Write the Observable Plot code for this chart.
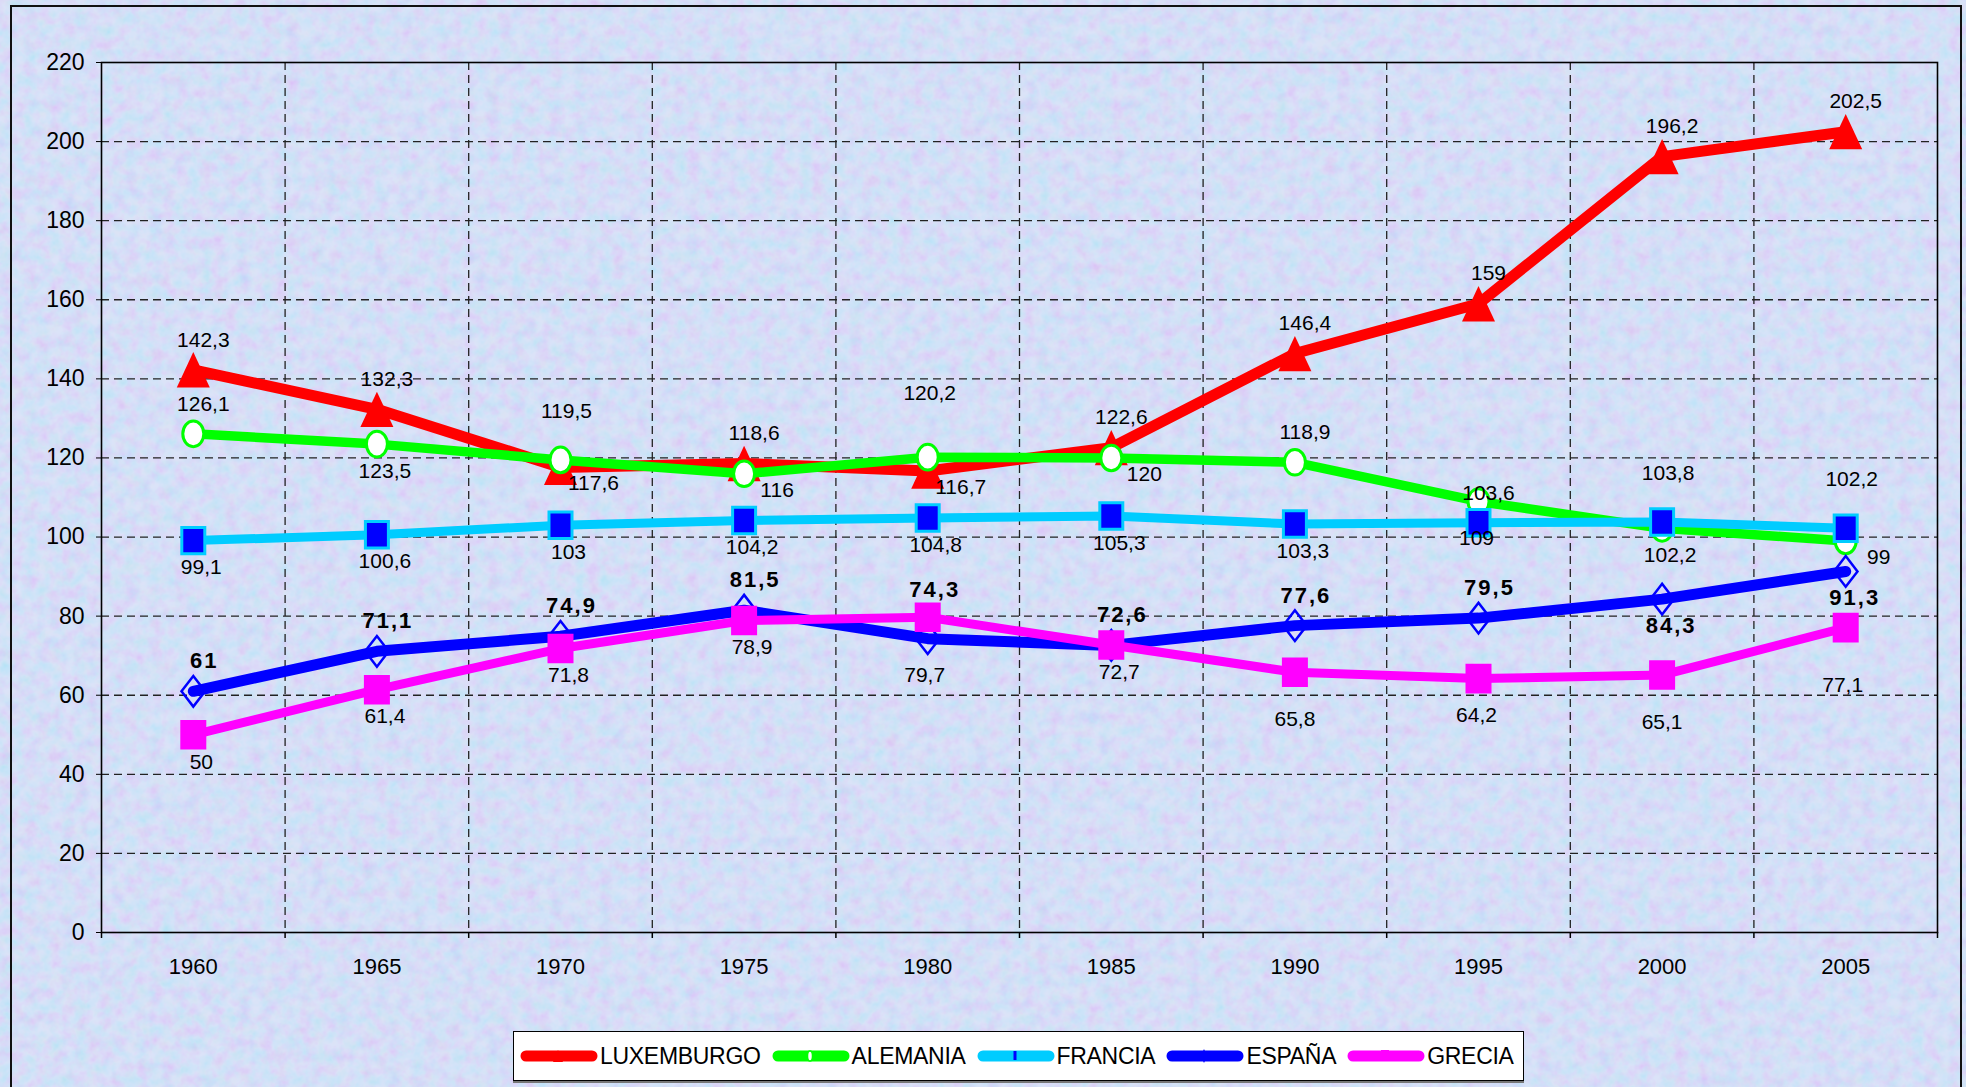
<!DOCTYPE html>
<html><head><meta charset="utf-8">
<script src="https://cdn.jsdelivr.net/npm/d3@7"></script>
<script src="https://cdn.jsdelivr.net/npm/@observablehq/plot@0.6"></script>
<style>
html,body{margin:0;padding:0;width:1966px;height:1087px;overflow:hidden;font-family:"Liberation Sans",Arial,sans-serif;background:#c8d4f5;}
#bg{position:absolute;left:0;top:0;}
#frame{position:absolute;left:10px;top:5px;width:1952px;height:1200px;border:2px solid #111;box-sizing:border-box;}
#chart{position:absolute;left:0;top:0;}
#legend{position:absolute;left:513px;top:1031px;width:1011px;height:50px;background:#fff;border:1.5px solid #000;box-shadow:0 2px 0 #777;box-sizing:border-box;display:flex;align-items:center;padding-left:6px;}
.item{display:flex;align-items:center;margin-right:11px;}
.item svg{display:block;margin-right:2px;}
.item span{font-size:23px;color:#000;letter-spacing:-0.3px;}
</style></head>
<body>
<svg id="bg" width="1966" height="1087">
  <defs>
    <filter id="noise" x="0" y="0" width="100%" height="100%">
      <feTurbulence type="fractalNoise" baseFrequency="0.08" numOctaves="3" seed="11" result="t"/>
      <feColorMatrix in="t" type="matrix" values="1.0 -0.3 0 0 0.5  -0.3 1.0 0 0 0.55  0 0 0.3 0 0.82  0 0 0 0 1"/>
    </filter>
  </defs>
  <rect width="1966" height="1087" fill="#c8d4f5"/>
  <rect width="1966" height="1087" filter="url(#noise)" opacity="0.35"/>
</svg>
<div id="frame"></div>
<div id="chart"></div>
<div id="legend"></div>
<script>
// ---- data ----
const years = [1960, 1965, 1970, 1975, 1980, 1985, 1990, 1995, 2000, 2005];
const luxemburgo = [142.3, 132.3, 117.6, 118.6, 116.7, 122.6, 146.4, 159, 196.2, 202.5];
const alemania   = [126.1, 123.5, 119.5, 116, 120.2, 120, 118.9, 109, 102.2, 99];
const francia    = [99.1, 100.6, 103, 104.2, 104.8, 105.3, 103.3, 103.6, 103.8, 102.2];
const espana     = [61, 71.1, 74.9, 81.5, 74.3, 72.6, 77.6, 79.5, 84.3, 91.3];
const grecia     = [50, 61.4, 71.8, 78.9, 79.7, 72.7, 65.8, 64.2, 65.1, 77.1];
const seriesNames = ["LUXEMBURGO", "ALEMANIA", "FRANCIA", "ESPAÑA", "GRECIA"];
const yTicks = [0, 20, 40, 60, 80, 100, 120, 140, 160, 180, 200, 220];

// ---- label placement (layout, per point) ----
const labelPlacement = {
  LUXEMBURGO: ["T","T","R","T","R","T","T","T","T","T"],
  ALEMANIA:   ["T","B","T2","R","T3","R","T","B2","B","R"],
  FRANCIA:    ["B","B","B","B","B","B","B","T","T2","T2"],
  "ESPAÑA":   ["T","T","T","T","T2","T","T","T","B","B"],
  GRECIA:     ["B","B","B","B","B4","B","B3","B2","B3","B4"]
};
const offsets = {T:[10,-30],T2:[6,-49],T3:[2,-64],B:[8,27],B2:[-2,37],B3:[0,47],B4:[-3,58],R:[33,16]};

// ---- custom symbols ----
const symTri = {draw(c,s){const r=Math.sqrt(s/Math.PI); c.moveTo(0,-1.07*r); c.lineTo(r,1.07*r); c.lineTo(-r,1.07*r); c.closePath();}};
const symEll = {draw(c,s){const r=Math.sqrt(s/Math.PI), ry=r*1.22, k=0.5523;
  c.moveTo(r,0); c.bezierCurveTo(r,ry*k,r*k,ry,0,ry); c.bezierCurveTo(-r*k,ry,-r,ry*k,-r,0);
  c.bezierCurveTo(-r,-ry*k,-r*k,-ry,0,-ry); c.bezierCurveTo(r*k,-ry,r,-ry*k,r,0); c.closePath();}};
const symRect = {draw(c,s){const r=Math.sqrt(s/Math.PI); c.rect(-r,-r*1.15,2*r,2.3*r);}};
const symDia = {draw(c,s){const r=Math.sqrt(s/Math.PI); c.moveTo(0,-1.3*r); c.lineTo(r,0); c.lineTo(0,1.3*r); c.lineTo(-r,0); c.closePath();}};

const series = [
  {name:"LUXEMBURGO", values:luxemburgo, color:"#ff0000", width:11, sym:symTri, r:16.5, fill:"#ff0000", stroke:"none", sw:0},
  {name:"ALEMANIA", values:alemania, color:"#00ff00", width:9.5, sym:symEll, r:10.5, fill:"#ffffff", stroke:"#00ff00", sw:3},
  {name:"FRANCIA", values:francia, color:"#00ccff", width:9, sym:symRect, r:11.5, fill:"#0000ff", stroke:"#00ccff", sw:3},
  {name:"ESPAÑA", values:espana, color:"#0000ff", width:11, sym:symDia, r:11.8, fill:"none", stroke:"#0000ff", sw:2.5},
  {name:"GRECIA", values:grecia, color:"#ff00ff", width:9, sym:symRect, r:12, fill:"#ff00ff", stroke:"#ff00ff", sw:2}
];

const fmt = v => String(v).replace(".", ",");
const boundaries = d3.range(1957.5, 2008, 5);

const marks = [
  Plot.gridY(yTicks.filter(d => d > 0 && d < 220), {stroke:"#222", strokeOpacity:1, strokeWidth:1.3, strokeDasharray:"8,5"}),
  Plot.ruleX(boundaries.slice(1, -1), {stroke:"#222", strokeOpacity:1, strokeWidth:1.3, strokeDasharray:"8,5"}),
  Plot.frame({stroke:"#000", strokeWidth:1.6}),
  Plot.axisY(yTicks, {tickSize:5, tickPadding:12, fontSize:23, tickFormat:d => String(d), label:null}),
  Plot.axisX(years, {tickSize:0, tickPadding:26, fontSize:22, tickFormat:d => String(d), label:null}),
  Plot.axisX(boundaries, {tickSize:6, tickFormat:() => "", label:null, strokeWidth:1.5})
];

for (const s of series) {
  marks.push(Plot.line(years, {x:d => d, y:(d,i) => s.values[i], stroke:s.color, strokeWidth:s.width, strokeLinecap:"round", strokeLinejoin:"round"}));
  marks.push(Plot.dot(years, {x:d => d, y:(d,i) => s.values[i], symbol:s.sym, r:s.r, fill:s.fill, stroke:s.stroke, strokeWidth:s.sw}));
}
for (const s of series) {
  const codes = labelPlacement[s.name];
  const bold = s.name === "ESPAÑA";
  for (const code of Object.keys(offsets)) {
    if (!codes.includes(code)) continue;
    marks.push(Plot.text(years, {
      filter:(d,i) => codes[i] === code,
      x:d => d, y:(d,i) => s.values[i], text:(d,i) => fmt(s.values[i]),
      dx:offsets[code][0] + (bold ? 1 : 0), dy:offsets[code][1],
      fontSize: bold ? 22 : 21, fontWeight: bold ? "bold" : "normal", fill:"#000"
    }));
  }
}

const svg = Plot.plot({
  width:1966, height:1010,
  marginLeft:101, marginRight:29, marginTop:62, marginBottom:78,
  x:{type:"linear", domain:[1957.5, 2007.5]},
  y:{type:"linear", domain:[0, 220]},
  style:"background:transparent;font-family:'Liberation Sans',Arial,sans-serif;font-size:23px;color:#000;overflow:visible;max-width:none;",
  marks
});
document.getElementById("chart").appendChild(svg);
d3.select(svg).selectAll('g[font-weight="bold"] text, text[font-weight="bold"]').style("letter-spacing", "2px");

// ---- legend ----
const legendSym = {
  "LUXEMBURGO": '<path d="M38,4 L43,16 L33,16 Z" fill="#ff0000"/>',
  "ALEMANIA": '<ellipse cx="38" cy="10" rx="2.5" ry="5" fill="#fff" stroke="#00ff00" stroke-width="1.5"/>',
  "FRANCIA": '<rect x="36.5" y="5" width="3" height="9" fill="#0000ff"/>',
  "ESPAÑA": '<path d="M38,3 L41,10 L38,17 L35,10 Z" fill="#0000ff"/>',
  "GRECIA": '<rect x="34" y="4" width="8" height="11" fill="#ff00ff"/>'
};
const legend = document.getElementById("legend");
for (const s of series) {
  const it = document.createElement("div");
  it.className = "item";
  it.innerHTML = `<svg width="78" height="20"><line x1="6" y1="10" x2="72" y2="10" stroke="${s.color}" stroke-width="11" stroke-linecap="round"/>${legendSym[s.name]}</svg><span>${s.name}</span>`;
  legend.appendChild(it);
}
</script>
</body></html>
